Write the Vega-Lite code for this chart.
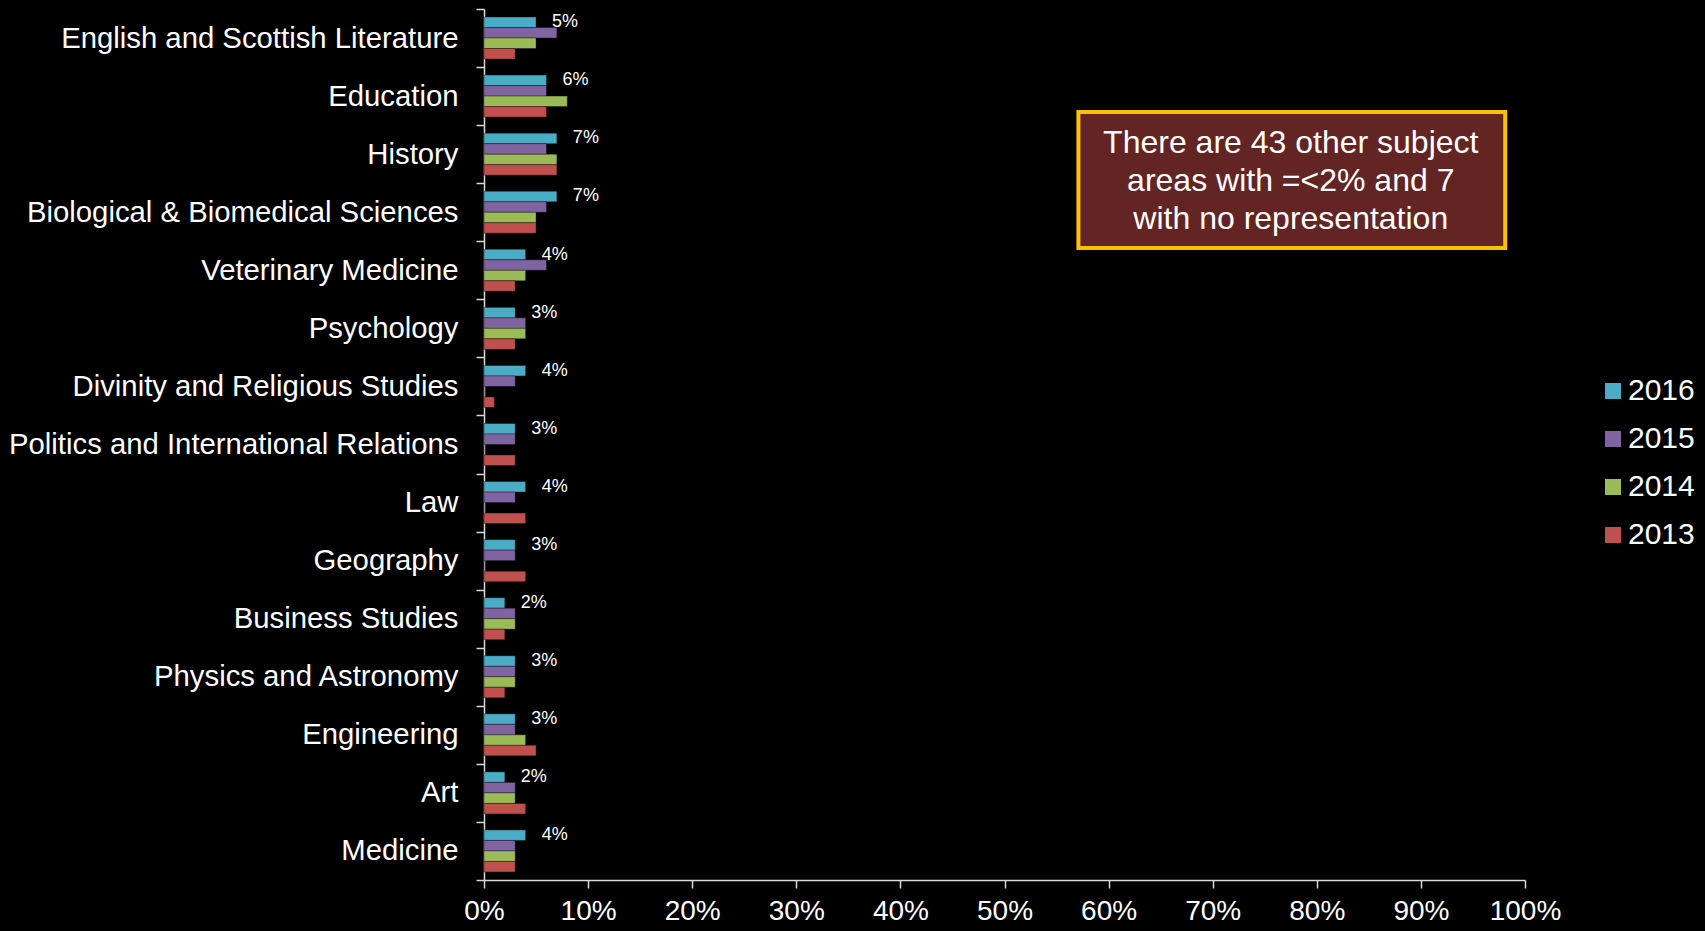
{
  "$schema": "https://vega.github.io/schema/vega-lite/v6.json",
  "autosize": "none",
  "width": 1041,
  "height": 871,
  "padding": {"left": 484, "top": 9, "right": 180, "bottom": 51},
  "background": "#000000",
  "config": {
    "view": {"stroke": null},
    "font": "Liberation Sans",
    "axis": {"grid": false, "domainColor": "#d9d9d9", "tickColor": "#d9d9d9", "labelColor": "#ffffff", "labelFont": "Liberation Sans", "domainWidth": 1.5, "tickWidth": 1.5},
    "legend": {"labelColor": "#ffffff", "labelFont": "Liberation Sans"}
  },
  "datasets": {
    "shares": [
      {"subject": "English and Scottish Literature", "year": "2016", "share": 0.05},
      {"subject": "English and Scottish Literature", "year": "2015", "share": 0.07},
      {"subject": "English and Scottish Literature", "year": "2014", "share": 0.05},
      {"subject": "English and Scottish Literature", "year": "2013", "share": 0.03},
      {"subject": "Education", "year": "2016", "share": 0.06},
      {"subject": "Education", "year": "2015", "share": 0.06},
      {"subject": "Education", "year": "2014", "share": 0.08},
      {"subject": "Education", "year": "2013", "share": 0.06},
      {"subject": "History", "year": "2016", "share": 0.07},
      {"subject": "History", "year": "2015", "share": 0.06},
      {"subject": "History", "year": "2014", "share": 0.07},
      {"subject": "History", "year": "2013", "share": 0.07},
      {"subject": "Biological & Biomedical Sciences", "year": "2016", "share": 0.07},
      {"subject": "Biological & Biomedical Sciences", "year": "2015", "share": 0.06},
      {"subject": "Biological & Biomedical Sciences", "year": "2014", "share": 0.05},
      {"subject": "Biological & Biomedical Sciences", "year": "2013", "share": 0.05},
      {"subject": "Veterinary Medicine", "year": "2016", "share": 0.04},
      {"subject": "Veterinary Medicine", "year": "2015", "share": 0.06},
      {"subject": "Veterinary Medicine", "year": "2014", "share": 0.04},
      {"subject": "Veterinary Medicine", "year": "2013", "share": 0.03},
      {"subject": "Psychology", "year": "2016", "share": 0.03},
      {"subject": "Psychology", "year": "2015", "share": 0.04},
      {"subject": "Psychology", "year": "2014", "share": 0.04},
      {"subject": "Psychology", "year": "2013", "share": 0.03},
      {"subject": "Divinity and Religious Studies", "year": "2016", "share": 0.04},
      {"subject": "Divinity and Religious Studies", "year": "2015", "share": 0.03},
      {"subject": "Divinity and Religious Studies", "year": "2014", "share": 0},
      {"subject": "Divinity and Religious Studies", "year": "2013", "share": 0.01},
      {"subject": "Politics and International Relations", "year": "2016", "share": 0.03},
      {"subject": "Politics and International Relations", "year": "2015", "share": 0.03},
      {"subject": "Politics and International Relations", "year": "2014", "share": 0},
      {"subject": "Politics and International Relations", "year": "2013", "share": 0.03},
      {"subject": "Law", "year": "2016", "share": 0.04},
      {"subject": "Law", "year": "2015", "share": 0.03},
      {"subject": "Law", "year": "2014", "share": 0},
      {"subject": "Law", "year": "2013", "share": 0.04},
      {"subject": "Geography", "year": "2016", "share": 0.03},
      {"subject": "Geography", "year": "2015", "share": 0.03},
      {"subject": "Geography", "year": "2014", "share": 0},
      {"subject": "Geography", "year": "2013", "share": 0.04},
      {"subject": "Business Studies", "year": "2016", "share": 0.02},
      {"subject": "Business Studies", "year": "2015", "share": 0.03},
      {"subject": "Business Studies", "year": "2014", "share": 0.03},
      {"subject": "Business Studies", "year": "2013", "share": 0.02},
      {"subject": "Physics and Astronomy", "year": "2016", "share": 0.03},
      {"subject": "Physics and Astronomy", "year": "2015", "share": 0.03},
      {"subject": "Physics and Astronomy", "year": "2014", "share": 0.03},
      {"subject": "Physics and Astronomy", "year": "2013", "share": 0.02},
      {"subject": "Engineering", "year": "2016", "share": 0.03},
      {"subject": "Engineering", "year": "2015", "share": 0.03},
      {"subject": "Engineering", "year": "2014", "share": 0.04},
      {"subject": "Engineering", "year": "2013", "share": 0.05},
      {"subject": "Art", "year": "2016", "share": 0.02},
      {"subject": "Art", "year": "2015", "share": 0.03},
      {"subject": "Art", "year": "2014", "share": 0.03},
      {"subject": "Art", "year": "2013", "share": 0.04},
      {"subject": "Medicine", "year": "2016", "share": 0.04},
      {"subject": "Medicine", "year": "2015", "share": 0.03},
      {"subject": "Medicine", "year": "2014", "share": 0.03},
      {"subject": "Medicine", "year": "2013", "share": 0.03}
    ],
    "note": [
      {"x": 0.571, "x2": 0.981, "top": 1.774, "bottom": 4.116, "cx": 0.775, "cy": 2.3, "label": "There are 43 other subject\nareas with =<2% and 7\nwith no representation"}
    ]
  },
  "layer": [
    {
      "data": {"name": "shares"},
      "layer": [
        {
          "mark": {"type": "bar", "stroke": "#000000", "strokeOpacity": 0.35, "strokeWidth": 1},
          "encoding": {
            "y": {
              "field": "subject", "type": "nominal", "sort": null,
              "scale": {"paddingInner": 0, "paddingOuter": 0},
              "axis": {"title": null, "labelFontSize": 29.3, "labelPadding": 18, "tickSize": 8, "tickBand": "extent", "labelLimit": 600}
            },
            "yOffset": {
              "field": "year", "type": "nominal",
              "scale": {"domain": ["2016", "2015", "2014", "2013"], "paddingInner": 0, "paddingOuter": 0.765}
            },
            "x": {
              "field": "share", "type": "quantitative",
              "scale": {"domain": [0, 1], "nice": false},
              "axis": {"title": null, "format": ".0%", "values": [0, 0.1, 0.2, 0.3, 0.4, 0.5, 0.6, 0.7, 0.8, 0.9, 1], "labelFontSize": 28, "tickSize": 8, "labelPadding": 9, "labelFlush": false, "labelOverlap": false}
            },
            "color": {
              "field": "year", "type": "nominal",
              "scale": {"domain": ["2016", "2015", "2014", "2013"], "range": ["#4BACC6", "#8064A2", "#9BBB59", "#C0504D"]},
              "legend": {"title": null, "orient": "none", "legendX": 1114, "legendY": 367, "symbolType": "square", "symbolSize": 256, "symbolStrokeWidth": 0, "labelFontSize": 30, "rowPadding": 18, "labelOffset": 0}
            }
          }
        },
        {
          "transform": [{"filter": "datum.year == '2016'"}],
          "mark": {"type": "text", "align": "left", "baseline": "middle", "dx": 16, "fontSize": 18, "color": "#ffffff"},
          "encoding": {
            "y": {"field": "subject", "type": "nominal", "sort": null},
            "yOffset": {"field": "year", "type": "nominal"},
            "x": {"field": "share", "type": "quantitative"},
            "text": {"field": "share", "type": "quantitative", "format": ".0%"}
          }
        }
      ]
    },
    {
      "data": {"name": "note"},
      "layer": [
        {
          "mark": {"type": "rect", "fill": "#632523", "stroke": "#FFC000", "strokeWidth": 4},
          "encoding": {
            "x": {"field": "x", "type": "quantitative"},
            "x2": {"field": "x2"},
            "y": {"field": "top", "type": "quantitative", "scale": {"domain": [0, 15], "reverse": true, "nice": false, "zero": false}, "axis": null},
            "y2": {"field": "bottom"}
          }
        },
        {
          "mark": {"type": "text", "align": "center", "baseline": "middle", "fontSize": 32, "lineHeight": 38, "lineBreak": "\n", "color": "#ffffff"},
          "encoding": {
            "x": {"field": "cx", "type": "quantitative"},
            "y": {"field": "cy", "type": "quantitative", "scale": {"domain": [0, 15], "reverse": true, "nice": false, "zero": false}, "axis": null},
            "text": {"field": "label"}
          }
        }
      ]
    }
  ],
  "resolve": {"scale": {"y": "independent"}}
}
